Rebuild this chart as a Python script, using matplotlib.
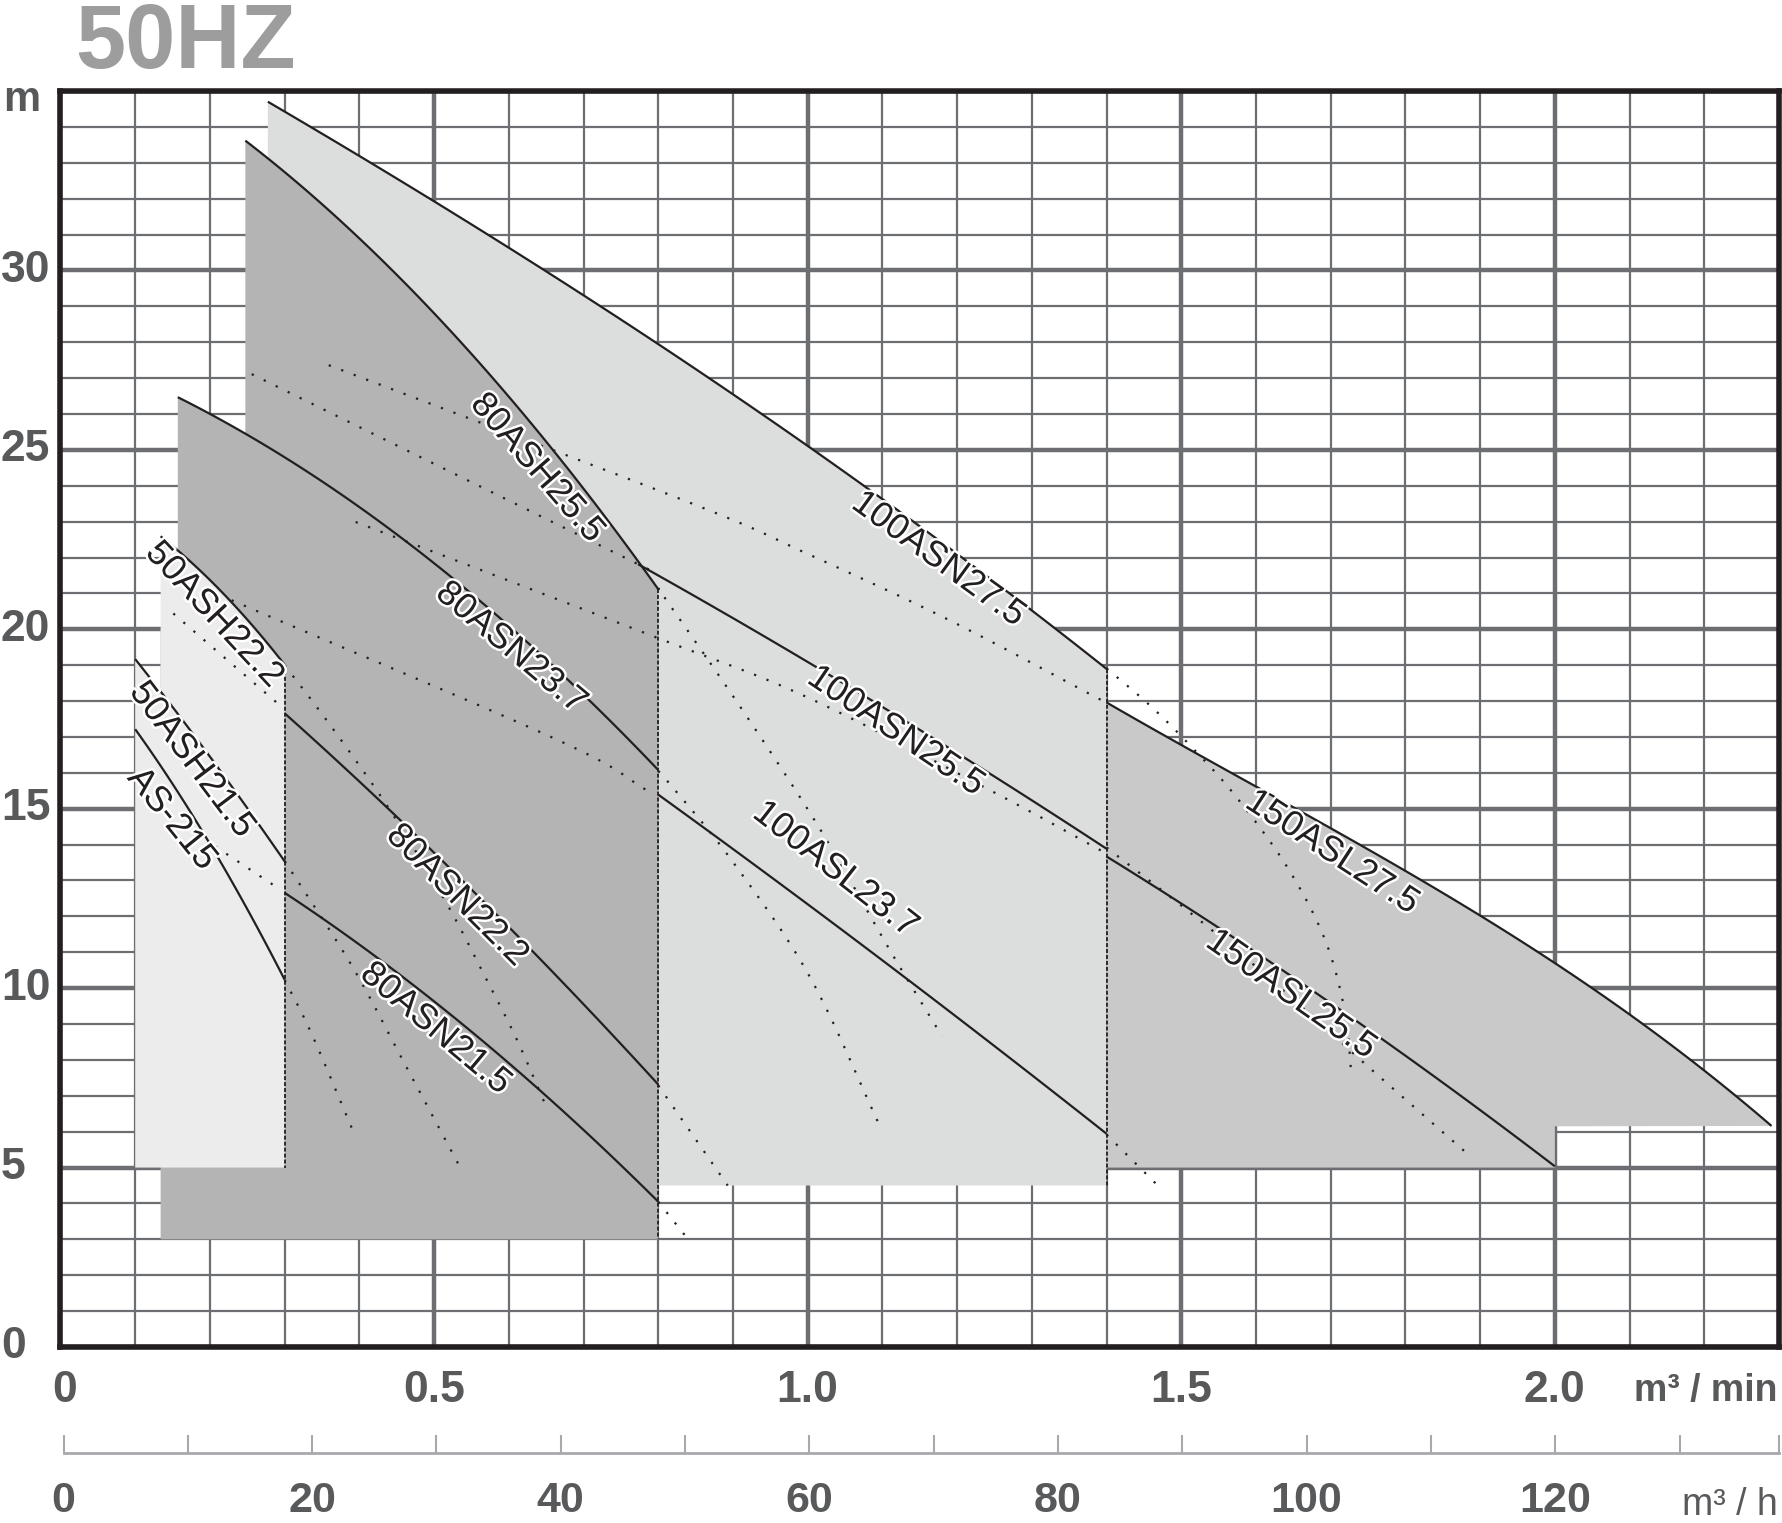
"""Head/flow selection chart for the AS submersible pump range (50 Hz).

Each pump family is drawn as a shaded working field bounded by its head
curves; dotted lines continue the curves beyond the field they bound.
Writes ``out.png``.
"""

import matplotlib

matplotlib.use("Agg")
import matplotlib.pyplot as plt
import matplotlib.patheffects as pe
import numpy as np
from matplotlib.ticker import MultipleLocator
from matplotlib.transforms import blended_transform_factory

# Head curves: flow in m3/min, head in m.
Q_AS215 = [0.10, 0.15, 0.20, 0.25, 0.30]
H_AS215 = [17.23, 15.65, 14.05, 12.20, 10.23]
Q_50ASH215 = [0.10, 0.15, 0.20, 0.25, 0.30]
H_50ASH215 = [19.16, 17.85, 16.45, 15.00, 13.54]
Q_50ASH222 = [0.134, 0.18, 0.22, 0.26, 0.30]
H_50ASH222 = [22.60, 21.75, 20.95, 20.05, 19.00]
Q_80ASN215 = [0.30, 0.40, 0.50, 0.60, 0.70, 0.80]
H_80ASN215 = [12.66, 11.20, 9.65, 7.90, 6.05, 4.05]
Q_80ASN222 = [0.30, 0.40, 0.50, 0.60, 0.70, 0.80]
H_80ASN222 = [17.67, 15.75, 13.75, 11.70, 9.60, 7.29]
Q_80ASN237 = [0.157, 0.25, 0.392, 0.516, 0.65, 0.80]
H_80ASN237 = [26.52, 25.35, 23.50, 21.60, 19.20, 16.05]
Q_80ASH255 = [0.2474, 0.392, 0.50, 0.584, 0.70, 0.77, 0.80]
H_80ASH255 = [33.61, 31.05, 28.86, 26.80, 23.95, 21.95, 21.14]
Q_100ASN275 = [0.2775, 0.50, 0.70, 0.80, 1.00, 1.10, 1.20, 1.30, 1.40]
H_100ASN275 = [34.70, 31.94, 29.25, 28.00, 25.09, 23.65, 22.10, 20.50, 18.91]
Q_100ASN255 = [0.773, 0.90, 1.00, 1.10, 1.20, 1.30, 1.40]
H_100ASN255 = [21.80, 20.30, 19.15, 17.85, 16.50, 15.20, 13.92]
Q_100ASL237 = [0.80, 0.90, 1.00, 1.10, 1.20, 1.30, 1.40]
H_100ASL237 = [15.42, 13.85, 12.30, 10.80, 9.20, 7.60, 5.92]
Q_150ASL275 = [1.40, 1.50, 1.60, 1.70, 1.80, 1.90, 2.00, 2.10, 2.20, 2.29]
H_150ASL275 = [17.88, 16.92, 15.64, 14.40, 13.18, 12.00, 10.78, 9.30, 7.68, 6.15]
Q_150ASL255 = [1.40, 1.50, 1.60, 1.70, 1.80, 1.90, 2.00]
H_150ASL255 = [13.62, 12.44, 11.00, 9.55, 8.10, 6.60, 5.05]

# Dotted continuations of the curves outside their own field.
Q_EXT_80ASN222_L = [0.151, 0.22, 0.296]
H_EXT_80ASN222_L = [20.44, 19.20, 17.84]
Q_EXT_80ASN215_L = [0.207, 0.291]
H_EXT_80ASN215_L = [13.95, 12.79]
Q_EXT_50ASH222_R = [0.30, 0.356, 0.423, 0.47, 0.523, 0.566, 0.61, 0.648]
H_EXT_50ASH222_R = [19.00, 17.47, 15.52, 14.00, 12.13, 10.41, 8.60, 6.80]
Q_EXT_50ASH215_R = [0.30, 0.311, 0.392, 0.463, 0.535]
H_EXT_50ASH215_R = [13.54, 13.19, 10.55, 7.80, 5.00]
Q_EXT_AS215_R = [0.30, 0.336, 0.395]
H_EXT_AS215_R = [10.23, 8.73, 5.85]
Q_EXT_100ASL237_L = [0.229, 0.666, 0.79]
H_EXT_100ASL237_L = [20.81, 16.91, 15.45]
Q_EXT_150ASL255_L = [0.395, 0.794, 1.00, 1.25, 1.40]
H_EXT_150ASL255_L = [22.99, 19.80, 18.10, 15.45, 13.75]
Q_EXT_100ASN255_L = [0.256, 0.751, 0.773]
H_EXT_100ASN255_L = [27.11, 22.04, 21.80]
Q_EXT_150ASL275_L = [0.359, 0.842, 1.00, 1.19, 1.40]
H_EXT_150ASL275_L = [27.36, 23.53, 22.10, 20.25, 17.95]
Q_EXT_80ASH255_R = [0.80, 0.811, 0.913, 1.016, 1.11, 1.18]
H_EXT_80ASH255_R = [21.14, 20.81, 17.74, 14.45, 11.06, 8.65]
Q_EXT_80ASN237_R = [0.80, 0.813, 0.898, 1.003, 1.099]
H_EXT_80ASN237_R = [16.05, 15.75, 13.57, 10.31, 6.05]
Q_EXT_80ASN222_R = [0.80, 0.893]
H_EXT_80ASN222_R = [7.29, 4.50]
Q_EXT_80ASN215_R = [0.80, 0.84]
H_EXT_80ASN215_R = [4.05, 3.00]
Q_EXT_100ASN275_R = [1.40, 1.458, 1.512, 1.572, 1.641, 1.692, 1.719, 1.728]
H_EXT_100ASN275_R = [18.91, 17.88, 16.76, 15.37, 13.40, 11.37, 9.34, 7.52]
Q_EXT_100ASN255_R = [1.40, 1.50, 1.60, 1.70, 1.76, 1.88]
H_EXT_100ASN255_R = [13.92, 12.30, 10.60, 8.75, 7.63, 5.44]
Q_EXT_100ASL237_R = [1.40, 1.472]
H_EXT_100ASL237_R = [5.92, 4.43]

# Field floors (lowest head of each field, m).
FLOOR_50 = 5.0
FLOOR_80 = 3.0
FLOOR_100 = 4.5
FLOOR_150 = 5.0
FLOOR_150_TAIL = 6.15

# Axis tick labels.
Y_TICKS = [0, 5, 10, 15, 20, 25, 30]
X_TICKS = [0.0, 0.5, 1.0, 1.5, 2.0]
X_TICK_LABELS = ["0", "0.5", "1.0", "1.5", "2.0"]
QH_TICKS = [0, 20, 40, 60, 80, 100, 120]

# Curve labels: text, flow, head, angle.
LABELS = [
    ("100ASN27.5", 1.175, 21.95, -36),
    ("80ASH25.5", 0.638, 24.49, -49),
    ("80ASN23.7", 0.603, 19.48, -40),
    ("50ASH22.2", 0.206, 20.40, -47),
    ("50ASH21.5", 0.176, 16.36, -53),
    ("AS-215", 0.149, 14.71, -51),
    ("80ASN22.2", 0.531, 12.58, -45),
    ("80ASN21.5", 0.502, 8.87, -40),
    ("100ASN25.5", 1.118, 17.16, -34),
    ("100ASL23.7", 1.037, 13.30, -38),
    ("150ASL27.5", 1.702, 13.78, -33),
    ("150ASL25.5", 1.647, 9.82, -35),
]

W_PX, H_PX = 1783, 1523
INK = "#231f20"
GRID = "#6d6e71"
TEXT = "#58595b"
FILL_50 = "#ececec"
FILL_80 = "#b4b4b4"
FILL_100 = "#dcdedd"
FILL_150 = "#c8c9c8"


def fx(px):
    return px / W_PX


def fy(px):
    """Figure fraction for a pixel row counted from the top."""
    return 1 - px / H_PX


def smooth_fit(q, h, n=80):
    """Least-squares polynomial through the read points, for drawing.

    Quadratic for short curves, cubic for the long ones that bend more.
    """
    deg = 3 if len(q) >= 8 else 2
    qd = np.linspace(q[0], q[-1], n)
    return qd, np.polyval(np.polyfit(q, h, deg), qd)


def smooth_through(q, h, n=16):
    """Catmull-Rom path through the read points (kept as-is at 2 points)."""
    pts = np.column_stack([q, h]).astype(float)
    if len(pts) < 3:
        return pts[:, 0], pts[:, 1]
    p = np.vstack([2 * pts[0] - pts[1], pts, 2 * pts[-1] - pts[-2]])
    t = np.linspace(0, 1, n, endpoint=False)[:, None]
    segs = []
    for i in range(1, len(p) - 2):
        p0, p1, p2, p3 = p[i - 1], p[i], p[i + 1], p[i + 2]
        segs.append(0.5 * (2 * p1 + (p2 - p0) * t
                           + (2 * p0 - 5 * p1 + 4 * p2 - p3) * t ** 2
                           + (3 * p1 - p0 - 3 * p2 + p3) * t ** 3))
    segs.append(pts[-1:])
    out = np.vstack(segs)
    return out[:, 0], out[:, 1]


def main():
    plt.rcParams["font.family"] = ["Liberation Sans", "DejaVu Sans"]
    fig = plt.figure(figsize=(W_PX / 100, H_PX / 100), dpi=100)
    fig.patch.set_facecolor("white")

    left, right, top, bottom = 60.5, 1779, 91, 1347
    ax = fig.add_axes([fx(left), fy(bottom), fx(right - left), (bottom - top) / H_PX])
    ax.set_xlim(0, 2.3)
    ax.set_ylim(0, 35)

    # grid: thin every 0.1 m3/min and 1 m, heavy every 0.5 and 5
    ax.xaxis.set_major_locator(MultipleLocator(0.5))
    ax.xaxis.set_minor_locator(MultipleLocator(0.1))
    ax.yaxis.set_major_locator(MultipleLocator(5))
    ax.yaxis.set_minor_locator(MultipleLocator(1))
    ax.set_axisbelow(True)
    ax.grid(which="major", color=GRID, lw=3.2)
    ax.grid(which="minor", color=GRID, lw=1.6)
    ax.tick_params(which="both", length=0, labelbottom=False, labelleft=False)
    for sp in ax.spines.values():
        sp.set_color(INK)
        sp.set_linewidth(4)

    # smooth versions of the head curves
    c_as215 = smooth_fit(Q_AS215, H_AS215)
    c_50h215 = smooth_fit(Q_50ASH215, H_50ASH215)
    c_50h222 = smooth_fit(Q_50ASH222, H_50ASH222)
    c_80n215 = smooth_fit(Q_80ASN215, H_80ASN215)
    c_80n222 = smooth_fit(Q_80ASN222, H_80ASN222)
    c_80n237 = smooth_fit(Q_80ASN237, H_80ASN237)
    c_80h255 = smooth_fit(Q_80ASH255, H_80ASH255)
    c_100n275 = smooth_fit(Q_100ASN275, H_100ASN275)
    c_100n255 = smooth_fit(Q_100ASN255, H_100ASN255)
    c_100l237 = smooth_fit(Q_100ASL237, H_100ASL237)
    c_150l275 = smooth_fit(Q_150ASL275, H_150ASL275)
    c_150l255 = smooth_fit(Q_150ASL255, H_150ASL255)

    # working fields, back to front
    q_step = Q_50ASH222[0]
    q80 = Q_80ASH255[0]
    q, h = c_100n275
    xs = np.r_[q[0], q, q[-1], Q_100ASL237[0], Q_100ASL237[0]]
    ys = np.r_[20, h, FLOOR_100, FLOOR_100, 20]
    ax.fill(xs, ys, color=FILL_100, lw=0, zorder=1)

    q, h = c_80n237
    keep = q < q80
    qa, ha = c_80h255
    xs = np.r_[q_step, q_step, q[0], q[keep], q80, qa, qa[-1]]
    ys = np.r_[FLOOR_80, 20, 20, h[keep], np.interp(q80, q, h), ha, FLOOR_80]
    ax.fill(xs, ys, color=FILL_80, lw=0, zorder=1.1)

    q, h = c_50h215
    keep = q < q_step
    qb, hb = c_50h222
    xs = np.r_[q[0], q[keep], q_step, qb, qb[-1]]
    ys = np.r_[FLOOR_50, h[keep], np.interp(q_step, q, h), hb, FLOOR_50]
    ax.fill(xs, ys, color=FILL_50, lw=0, zorder=1.2)

    q, h = c_150l275
    xs = np.r_[q[0], q, Q_150ASL255[-1], Q_150ASL255[-1]]
    ys = np.r_[FLOOR_150, h, FLOOR_150_TAIL, FLOOR_150]
    ax.fill(xs, ys, color=FILL_150, lw=0, zorder=1.2)

    # field borders between families
    dash = dict(color=INK, lw=1.3, ls=(0, (2.2, 1.1)), zorder=2.8)
    ax.plot([Q_50ASH222[-1]] * 2, [c_50h222[1][-1], FLOOR_50], **dash)
    ax.plot([Q_80ASH255[-1]] * 2, [c_80h255[1][-1], FLOOR_80], **dash)
    ax.plot([Q_100ASN275[-1]] * 2, [c_100n275[1][-1], FLOOR_100], **dash)

    curves = [c_as215, c_50h215, c_50h222, c_80n215, c_80n222, c_80n237,
              c_80h255, c_100n275, c_100n255, c_100l237, c_150l275, c_150l255]
    for q, h in curves:
        ax.plot(q, h, color=INK, lw=1.6, solid_capstyle="butt", zorder=3)

    dotted = [
        (Q_EXT_80ASN222_L, H_EXT_80ASN222_L), (Q_EXT_80ASN215_L, H_EXT_80ASN215_L),
        (Q_EXT_50ASH222_R, H_EXT_50ASH222_R), (Q_EXT_50ASH215_R, H_EXT_50ASH215_R),
        (Q_EXT_AS215_R, H_EXT_AS215_R), (Q_EXT_100ASL237_L, H_EXT_100ASL237_L),
        (Q_EXT_150ASL255_L, H_EXT_150ASL255_L), (Q_EXT_100ASN255_L, H_EXT_100ASN255_L),
        (Q_EXT_150ASL275_L, H_EXT_150ASL275_L), (Q_EXT_80ASH255_R, H_EXT_80ASH255_R),
        (Q_EXT_80ASN237_R, H_EXT_80ASN237_R), (Q_EXT_80ASN222_R, H_EXT_80ASN222_R),
        (Q_EXT_80ASN215_R, H_EXT_80ASN215_R), (Q_EXT_100ASN275_R, H_EXT_100ASN275_R),
        (Q_EXT_100ASN255_R, H_EXT_100ASN255_R), (Q_EXT_100ASL237_R, H_EXT_100ASL237_R),
    ]
    for q, h in dotted:
        qs, hs = smooth_through(q, h)
        ax.plot(qs, hs, color=INK, lw=1.6, ls=(0, (1, 5)), zorder=2.6)

    halo = [pe.withStroke(linewidth=3.5, foreground="white")]
    for text, q, h, ang in LABELS:
        ax.text(q, h, text, fontsize=26, color=INK, rotation=ang,
                rotation_mode="anchor", ha="center", va="center",
                path_effects=halo, zorder=4)

    # tick labels
    xt = blended_transform_factory(ax.transData, fig.transFigure)
    yt = blended_transform_factory(fig.transFigure, ax.transData)
    for v, s in zip(X_TICKS, X_TICK_LABELS):
        ax.text(v + (0.006 if v == 0 else 0), fy(1391), s, transform=xt,
                fontsize=32, weight="bold", color=TEXT, ha="center", va="center")
    for v in Y_TICKS:
        ax.text(fx(1), v, str(v), transform=yt, fontsize=32, weight="bold",
                color=TEXT, ha="left", va="center")
    fig.text(fx(3), fy(100), "m", fontsize=30, weight="bold", color=TEXT,
             ha="left", va="center")
    fig.text(fx(1778), fy(1391), "m³ / min", fontsize=27, weight="bold",
             color=TEXT, ha="right", va="center")
    fig.text(fx(75), fy(68), "50HZ", fontsize=65, weight="bold",
             color="#9d9d9d", ha="left", va="baseline")

    # secondary flow scale in m3/h
    ax2 = fig.add_axes([fx(left + 3), fy(1453), fx(right - left - 3), 1e-4])
    ax2.set_xlim(0, 2.3 * 60)
    ax2.patch.set_visible(False)
    for name in ("left", "right", "top"):
        ax2.spines[name].set_visible(False)
    ax2.spines["bottom"].set_color("#a7a9ac")
    ax2.spines["bottom"].set_linewidth(2)
    ax2.set_xticks(list(range(0, 131, 10)) + [138])
    ax2.set_yticks([])
    ax2.tick_params(axis="x", direction="in", length=13, width=1.5,
                    color="#a7a9ac", labelbottom=False)
    xt2 = blended_transform_factory(ax2.transData, fig.transFigure)
    for v in QH_TICKS:
        ax2.text(v, fy(1521), str(v), transform=xt2, fontsize=31,
                 weight="bold", color=TEXT, ha="center", va="bottom")
    fig.text(fx(1778), fy(1505), "m³ / h", fontsize=27, color=TEXT,
             ha="right", va="center")

    fig.savefig("out.png", dpi=100)


if __name__ == "__main__":
    main()
